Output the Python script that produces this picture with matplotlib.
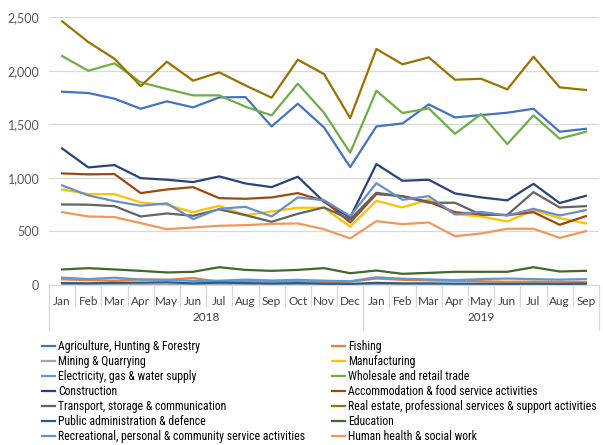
import numpy as np
import matplotlib
matplotlib.use('Agg')
import matplotlib.pyplot as plt
from matplotlib.lines import Line2D
from matplotlib import font_manager

# monthly figures, Jan 2018 - Sep 2019
months = ['Jan', 'Feb', 'Mar', 'Apr', 'May', 'Jun', 'Jul', 'Aug', 'Sep', 'Oct', 'Nov', 'Dec',
          'Jan', 'Feb', 'Mar', 'Apr', 'May', 'Jun', 'Jul', 'Aug', 'Sep']
years = ['2018', '2019']
year_len = [12, 9]

agriculture = [1805, 1793, 1740, 1646, 1715, 1659, 1752, 1755, 1481, 1693, 1472, 1101,
               1481, 1509, 1687, 1565, 1587, 1609, 1646, 1431, 1459]
fishing = [52, 45, 40, 52, 48, 65, 30, 38, 32, 35, 30, 30,
           60, 48, 42, 38, 35, 30, 32, 30, 28]
mining = [5, 4, 6, 5, 4, 5, 5, 4, 5, 5, 4, 3, 5, 4, 5, 4, 5, 4, 5, 4, 5]
manufacturing = [892, 849, 849, 771, 749, 680, 740, 652, 687, 721, 721, 543,
                 786, 724, 799, 662, 640, 593, 699, 624, 575]
electricity = [68, 55, 68, 50, 48, 38, 40, 50, 42, 48, 40, 35,
               72, 58, 52, 45, 55, 60, 55, 50, 55]
wholesale = [2138, 2001, 2070, 1893, 1830, 1771, 1771, 1665, 1584, 1880, 1609, 1235,
             1814, 1606, 1650, 1412, 1596, 1316, 1584, 1366, 1431]
construction = [1275, 1098, 1120, 998, 983, 961, 1014, 948, 914, 1011, 777, 631,
                1129, 973, 983, 855, 818, 790, 945, 765, 833]
accommodation = [1042, 1033, 1036, 858, 892, 914, 811, 805, 818, 858, 786, 584,
                 849, 830, 777, 680, 659, 652, 680, 562, 643]
transport = [752, 750, 736, 640, 668, 646, 706, 652, 590, 665, 724, 612,
             861, 827, 768, 768, 655, 655, 867, 724, 736]
real_estate = [2463, 2269, 2113, 1858, 2085, 1908, 1986, 1864, 1749, 2104, 1970, 1559,
               2204, 2061, 2126, 1917, 1926, 1827, 2132, 1846, 1821]
public_admin = [18, 16, 20, 22, 25, 15, 22, 18, 14, 18, 12, 10,
                20, 15, 15, 12, 12, 10, 12, 10, 12]
education = [145, 157, 145, 132, 117, 123, 166, 141, 132, 141, 157, 110,
             135, 104, 113, 123, 123, 123, 166, 126, 132]
recreational = [930, 836, 783, 740, 762, 615, 711, 730, 640, 818, 792, 643,
                951, 795, 830, 659, 683, 649, 711, 649, 699]
human_health = [680, 640, 634, 578, 521, 537, 553, 559, 571, 575, 521, 435,
                596, 568, 584, 456, 481, 525, 525, 440, 503]

series = [
    ('Agriculture, Hunting & Forestry', agriculture, '#4472C4'),
    ('Fishing', fishing, '#ED7D31'),
    ('Mining & Quarrying', mining, '#A5A5A5'),
    ('Manufacturing', manufacturing, '#FFC000'),
    ('Electricity, gas & water supply', electricity, '#5B9BD5'),
    ('Wholesale and retail trade', wholesale, '#70AD47'),
    ('Construction', construction, '#264478'),
    ('Accommodation & food service activities', accommodation, '#9E480E'),
    ('Transport, storage & communication', transport, '#636363'),
    ('Real estate, professional services & support activities', real_estate, '#997300'),
    ('Public administration & defence', public_admin, '#255E91'),
    ('Education', education, '#43682B'),
    ('Recreational, personal & community service activities', recreational, '#698ED0'),
    ('Human health & social work', human_health, '#F1975A'),
]

plt.rcParams['font.family'] = ['Lato', 'DejaVu Sans']

# narrow font for the legend if one is around, otherwise a smaller Arial-like one
installed = {f.name for f in font_manager.fontManager.ttflist}
legfont = {'family': 'Liberation Sans', 'size': 7.2, 'weight': 'normal'}
for fam in ['Liberation Sans Narrow', 'Roboto Condensed', 'Open Sans Condensed']:
    if fam in installed:
        legfont = {'family': fam, 'size': 8.5, 'weight': 'normal'}
        break

fig = plt.figure(figsize=(6.03, 4.45), dpi=100)
ax = fig.add_axes([0.0813, 0.3596, 0.912, 0.6015])

x = np.arange(len(months))
for name, vals, col in series:
    ax.plot(x, vals, color=col, lw=1.6, label=name)

ax.set_xlim(-0.5, len(months) - 0.5)
ax.set_ylim(0, 2500)
ax.set_yticks(np.arange(0, 2501, 500))
ax.set_yticklabels(['{:,}'.format(v) for v in range(0, 2501, 500)])
ax.yaxis.grid(True, color='#D9D9D9', lw=0.9)
ax.set_axisbelow(True)
for s in ['top', 'right', 'left']:
    ax.spines[s].set_visible(False)
ax.spines['bottom'].set_color('#D9D9D9')
ax.tick_params(axis='y', length=0, labelsize=9, colors='#595959', pad=7)

# two-level category axis
ax.set_xticks(x)
ax.set_xticklabels(months)
ax.tick_params(axis='x', length=0, labelsize=8.5, colors='#404040', pad=8)
trans = ax.get_xaxis_transform()
bounds = np.concatenate([[0], np.cumsum(year_len)]) - 0.5
for i in range(len(months) + 1):
    xs = i - 0.5
    bottom = -0.168 if xs in bounds else -0.078
    ax.plot([xs, xs], [0, bottom], transform=trans, color='#D9D9D9', lw=0.9, clip_on=False)
for j, yr in enumerate(years):
    mid = (bounds[j] + bounds[j + 1]) / 2
    ax.text(mid, -0.123, yr, transform=trans, ha='center', va='center',
            fontsize=8.5, color='#404040')

# legend in two columns, row-major order
handles = [Line2D([], [], color=c, lw=1.6) for _, _, c in series]
labels = [n for n, _, _ in series]
for k, xpos in enumerate([0.069, 0.550]):
    leg = fig.legend(handles[k::2], labels[k::2], loc='upper left',
                     bbox_to_anchor=(xpos, 0.236), frameon=False, prop=legfont,
                     handlelength=1.1, handletextpad=0.3, labelspacing=0.17,
                     borderpad=0, borderaxespad=0)
    for t in leg.get_texts():
        t.set_color('#000000')

fig.savefig('out.png', dpi=100)
